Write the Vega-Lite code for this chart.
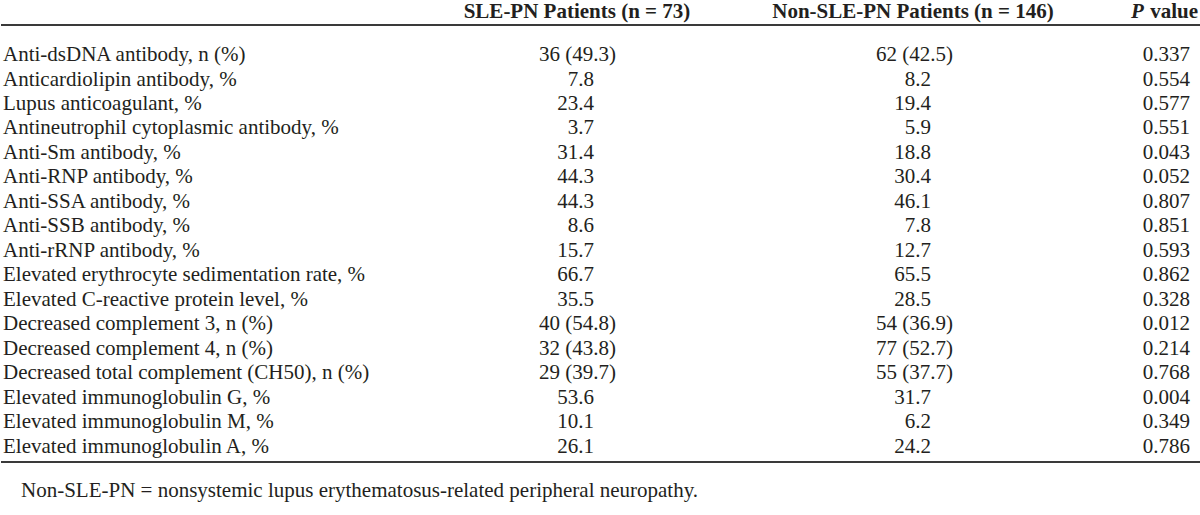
{
  "$schema": "https://vega.github.io/schema/vega-lite/v6.json",
  "width": 1200,
  "height": 515,
  "padding": 0,
  "background": "white",
  "config": {"view": {"stroke": null}, "text": {"font": "Liberation Serif", "fontSize": 21, "color": "#231f20", "baseline": "middle"}},
  "datasets": {
    "rows": [
      {"row": 1, "label": "Anti-dsDNA antibody, n (%)", "kind": "n", "sle": "36 (49.3)", "non": "62 (42.5)", "p": "0.337"},
      {"row": 2, "label": "Anticardiolipin antibody, %", "kind": "pct", "sle": "7.8", "non": "8.2", "p": "0.554"},
      {"row": 3, "label": "Lupus anticoagulant, %", "kind": "pct", "sle": "23.4", "non": "19.4", "p": "0.577"},
      {"row": 4, "label": "Antineutrophil cytoplasmic antibody, %", "kind": "pct", "sle": "3.7", "non": "5.9", "p": "0.551"},
      {"row": 5, "label": "Anti-Sm antibody, %", "kind": "pct", "sle": "31.4", "non": "18.8", "p": "0.043"},
      {"row": 6, "label": "Anti-RNP antibody, %", "kind": "pct", "sle": "44.3", "non": "30.4", "p": "0.052"},
      {"row": 7, "label": "Anti-SSA antibody, %", "kind": "pct", "sle": "44.3", "non": "46.1", "p": "0.807"},
      {"row": 8, "label": "Anti-SSB antibody, %", "kind": "pct", "sle": "8.6", "non": "7.8", "p": "0.851"},
      {"row": 9, "label": "Anti-rRNP antibody, %", "kind": "pct", "sle": "15.7", "non": "12.7", "p": "0.593"},
      {"row": 10, "label": "Elevated erythrocyte sedimentation rate, %", "kind": "pct", "sle": "66.7", "non": "65.5", "p": "0.862"},
      {"row": 11, "label": "Elevated C-reactive protein level, %", "kind": "pct", "sle": "35.5", "non": "28.5", "p": "0.328"},
      {"row": 12, "label": "Decreased complement 3, n (%)", "kind": "n", "sle": "40 (54.8)", "non": "54 (36.9)", "p": "0.012"},
      {"row": 13, "label": "Decreased complement 4, n (%)", "kind": "n", "sle": "32 (43.8)", "non": "77 (52.7)", "p": "0.214"},
      {"row": 14, "label": "Decreased total complement (CH50), n (%)", "kind": "n", "sle": "29 (39.7)", "non": "55 (37.7)", "p": "0.768"},
      {"row": 15, "label": "Elevated immunoglobulin G, %", "kind": "pct", "sle": "53.6", "non": "31.7", "p": "0.004"},
      {"row": 16, "label": "Elevated immunoglobulin M, %", "kind": "pct", "sle": "10.1", "non": "6.2", "p": "0.349"},
      {"row": 17, "label": "Elevated immunoglobulin A, %", "kind": "pct", "sle": "26.1", "non": "24.2", "p": "0.786"}
    ],
    "header": [
      {"row": -0.755, "key": "sle", "text": "SLE-PN Patients (n = 73)"},
      {"row": -0.755, "key": "non", "text": "Non-SLE-PN Patients (n = 146)"},
      {"row": -0.755, "key": "pitalic", "text": "P"},
      {"row": -0.755, "key": "pvalue", "text": "value"}
    ],
    "notes": [
      {"row": 18.796, "text": "Non-SLE-PN = nonsystemic lupus erythematosus-related peripheral neuropathy."}
    ],
    "rules": [
      {"row": -0.224},
      {"row": 17.612}
    ]
  },
  "encoding": {
    "y": {"field": "row", "type": "quantitative", "scale": {"domain": [-1.245, 19.776], "reverse": true, "nice": false, "zero": false}, "axis": null}
  },
  "layer": [
    {
      "data": {"name": "rules"},
      "mark": {"type": "rule", "strokeWidth": 2, "color": "#3a3a3a"},
      "encoding": {
        "x": {"datum": 0, "type": "quantitative", "scale": {"domain": [0, 1200], "nice": false, "zero": false}, "axis": null},
        "x2": {"datum": 1200}
      }
    },
    {
      "data": {"name": "rows"},
      "mark": {"type": "text", "align": "left"},
      "encoding": {"x": {"datum": 2, "type": "quantitative"}, "text": {"field": "label"}}
    },
    {
      "data": {"name": "rows"},
      "transform": [{"filter": "datum.kind === 'pct'"}],
      "mark": {"type": "text", "align": "right"},
      "encoding": {"x": {"datum": 593, "type": "quantitative"}, "text": {"field": "sle"}}
    },
    {
      "data": {"name": "rows"},
      "transform": [{"filter": "datum.kind === 'n'"}],
      "mark": {"type": "text", "align": "right"},
      "encoding": {"x": {"datum": 615, "type": "quantitative"}, "text": {"field": "sle"}}
    },
    {
      "data": {"name": "rows"},
      "transform": [{"filter": "datum.kind === 'pct'"}],
      "mark": {"type": "text", "align": "right"},
      "encoding": {"x": {"datum": 930, "type": "quantitative"}, "text": {"field": "non"}}
    },
    {
      "data": {"name": "rows"},
      "transform": [{"filter": "datum.kind === 'n'"}],
      "mark": {"type": "text", "align": "right"},
      "encoding": {"x": {"datum": 952, "type": "quantitative"}, "text": {"field": "non"}}
    },
    {
      "data": {"name": "rows"},
      "mark": {"type": "text", "align": "right"},
      "encoding": {"x": {"datum": 1189, "type": "quantitative"}, "text": {"field": "p"}}
    },
    {
      "data": {"name": "header"},
      "transform": [{"filter": "datum.key === 'sle'"}],
      "mark": {"type": "text", "align": "center", "fontWeight": "bold"},
      "encoding": {"x": {"datum": 576, "type": "quantitative"}, "text": {"field": "text"}}
    },
    {
      "data": {"name": "header"},
      "transform": [{"filter": "datum.key === 'non'"}],
      "mark": {"type": "text", "align": "center", "fontWeight": "bold"},
      "encoding": {"x": {"datum": 912, "type": "quantitative"}, "text": {"field": "text"}}
    },
    {
      "data": {"name": "header"},
      "transform": [{"filter": "datum.key === 'pitalic'"}],
      "mark": {"type": "text", "align": "left", "fontWeight": "bold", "fontStyle": "italic"},
      "encoding": {"x": {"datum": 1130, "type": "quantitative"}, "text": {"field": "text"}}
    },
    {
      "data": {"name": "header"},
      "transform": [{"filter": "datum.key === 'pvalue'"}],
      "mark": {"type": "text", "align": "right", "fontWeight": "bold"},
      "encoding": {"x": {"datum": 1197, "type": "quantitative"}, "text": {"field": "text"}}
    },
    {
      "data": {"name": "notes"},
      "mark": {"type": "text", "align": "left", "fontSize": 21},
      "encoding": {"x": {"datum": 20, "type": "quantitative"}, "text": {"field": "text"}}
    }
  ]
}
